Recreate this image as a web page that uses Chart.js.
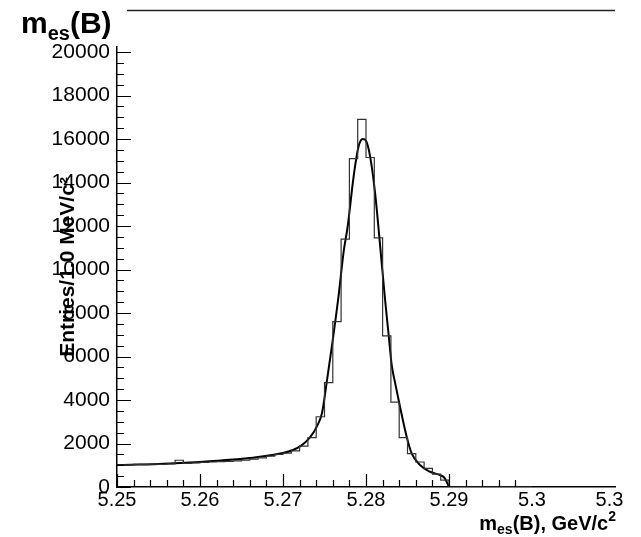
<!DOCTYPE html>
<html>
<head>
<meta charset="utf-8">
<script src="https://cdn.jsdelivr.net/npm/chart.js@4.4.1/dist/chart.umd.min.js"></script>
<style>
  html, body { margin: 0; padding: 0; background: #fff; }
</style>
</head>
<body>
<canvas id="mesChart" width="641" height="537"></canvas>
<script>
// histogram: 1 MeV bins starting at 5.25
const binStart = 5.25;
const binWidth = 0.001;
const binCounts = [1010, 1020, 1040, 1030, 1050, 1040, 1060, 1230, 1090, 1110,
                   1130, 1150, 1170, 1180, 1200, 1240, 1280, 1340, 1420, 1500,
                   1560, 1660, 1880, 2270, 3230, 4800, 7600, 11400, 15100, 16900,
                   15150, 11450, 6950, 3900, 2270, 1530, 1150, 860, 590, 320,
                   0, 0, 0, 0, 0, 0, 0, 0, 0, 0];

// fitted curve
const fitX = [5.2500, 5.2550, 5.2600, 5.2640, 5.2670, 5.2700, 5.2712, 5.2722, 5.2733, 5.2741,
              5.2747, 5.2753, 5.2759, 5.2767, 5.2773, 5.2778, 5.2785, 5.2791, 5.2796, 5.2800,
              5.2805, 5.2811, 5.2817, 5.2823, 5.2827, 5.2831, 5.2835, 5.2841, 5.2849, 5.2855,
              5.2865, 5.2877, 5.2889, 5.2895, 5.2900];
const fitY = [1010, 1060, 1150, 1260, 1380, 1560, 1700, 1900, 2300, 2800,
              3400, 4900, 6500, 8800, 10800, 12000, 14250, 15650, 16000, 15920,
              15190, 13500, 11100, 8600, 7100, 5600, 4800, 3690, 2310, 1550,
              1010, 705, 550, 400, 0];

const xTickValues = [5.25, 5.26, 5.27, 5.28, 5.29, 5.30, 5.31];
const xTickLabels = ['5.25', '5.26', '5.27', '5.28', '5.29', '5.3', '5.3  '];
const yTickValues = [0, 2000, 4000, 6000, 8000, 10000, 12000, 14000, 16000, 18000, 20000];

const histPoints = binCounts.map((c, i) => ({ x: binStart + i * binWidth, y: c }));
histPoints.push({ x: binStart + binCounts.length * binWidth, y: 0 });
const fitPoints = fitX.map((x, i) => ({ x: x, y: fitY[i] }));

// bold label with sub/superscript pieces
function drawSubLabel(ctx, x, y, size, parts, align) {
    const subSize = Math.round(size * 0.68);
    let total = 0;
    parts.forEach(p => {
        ctx.font = 'bold ' + (p.sub || p.sup ? subSize : size) + 'px "Liberation Sans", Arial, sans-serif';
        total += ctx.measureText(p.t).width;
    });
    let cx = align === 'right' ? x - total : x;
    ctx.textAlign = 'left';
    ctx.textBaseline = 'alphabetic';
    parts.forEach(p => {
        ctx.font = 'bold ' + (p.sub || p.sup ? subSize : size) + 'px "Liberation Sans", Arial, sans-serif';
        let dy = 0;
        if (p.sub) dy = size * 0.22;
        if (p.sup) dy = -size * 0.45;
        ctx.fillText(p.t, cx, y + dy);
        cx += ctx.measureText(p.t).width;
    });
}

const rootStyle = {
    id: 'rootStyle',
    afterDraw(chart) {
        const ctx = chart.ctx;
        const xs = chart.scales.x, ys = chart.scales.y;
        const left = chart.chartArea.left, bottom = chart.chartArea.bottom;
        ctx.save();
        ctx.strokeStyle = '#000';
        ctx.lineWidth = 1.2;
        ctx.beginPath();
        // y ticks, inside the frame
        for (let v = 0; v <= 20000; v += 500) {
            const py = Math.round(ys.getPixelForValue(v)) + 0.5;
            const len = v % 2000 === 0 ? 14 : 7;
            ctx.moveTo(left, py);
            ctx.lineTo(left + len, py);
        }
        // x ticks stop before 5.30
        for (let k = 0; k < 25; k++) {
            const px = Math.round(xs.getPixelForValue(binStart + k * 0.002)) + 0.5;
            const len = k % 5 === 0 ? 13 : 7;
            ctx.moveTo(px, bottom);
            ctx.lineTo(px, bottom - len);
        }
        ctx.stroke();

        // title line
        ctx.strokeStyle = '#222';
        ctx.lineWidth = 1.5;
        ctx.beginPath();
        ctx.moveTo(127, 10.5);
        ctx.lineTo(615, 10.5);
        ctx.stroke();

        ctx.fillStyle = '#000';
        drawSubLabel(ctx, 21, 33, 30, [{t: 'm'}, {t: 'es', sub: true}, {t: '(B)'}], 'left');
        drawSubLabel(ctx, 616, 530, 20, [{t: 'm'}, {t: 'es', sub: true}, {t: '(B), GeV/c'}, {t: '2', sup: true}], 'right');
        ctx.restore();
    }
};

new Chart(document.getElementById('mesChart'), {
    type: 'line',
    data: {
        datasets: [
            {
                label: 'histogram',
                data: histPoints,
                stepped: 'before',
                borderColor: '#333',
                borderWidth: 1.2,
                pointRadius: 0,
                fill: false
            },
            {
                label: 'fit',
                data: fitPoints,
                cubicInterpolationMode: 'monotone',
                borderColor: '#000',
                borderWidth: 2,
                pointRadius: 0,
                fill: false
            }
        ]
    },
    options: {
        responsive: false,
        animation: false,
        events: [],
        layout: { padding: { left: 0, right: 26, top: 47, bottom: 0 } },
        plugins: { legend: { display: false }, tooltip: { enabled: false } },
        scales: {
            x: {
                type: 'linear',
                min: 5.25,
                max: 5.31,
                grid: { display: false, drawTicks: false },
                border: { display: true, color: '#000', width: 1.5 },
                afterBuildTicks: s => { s.ticks = xTickValues.map(v => ({ value: v })); },
                afterFit: s => { s.height = 50; s.paddingLeft = 0; s.paddingRight = 0; },
                ticks: {
                    autoSkip: false,
                    maxRotation: 0,
                    minRotation: 0,
                    padding: 1,
                    color: '#000',
                    font: { family: '"Liberation Sans", Arial, sans-serif', size: 20 },
                    callback: (v, i) => xTickLabels[i]
                }
            },
            y: {
                min: 0,
                max: 20230,
                grid: { display: false, drawTicks: false },
                border: { display: true, color: '#000', width: 1.5 },
                afterBuildTicks: s => { s.ticks = yTickValues.map(v => ({ value: v })); },
                afterFit: s => { s.width = 117; s.paddingTop = 0; s.paddingBottom = 0; },
                ticks: {
                    padding: 7,
                    color: '#000',
                    font: { family: '"Liberation Sans", Arial, sans-serif', size: 21 },
                    callback: v => String(v)
                },
                title: {
                    display: true,
                    text: 'Entries/1.0 MeV/c²',
                    color: '#000',
                    font: { family: '"Liberation Sans", Arial, sans-serif', size: 21, weight: 'bold' },
                    padding: { top: 56, bottom: 0 }
                }
            }
        }
    },
    plugins: [rootStyle]
});
</script>
</body>
</html>
